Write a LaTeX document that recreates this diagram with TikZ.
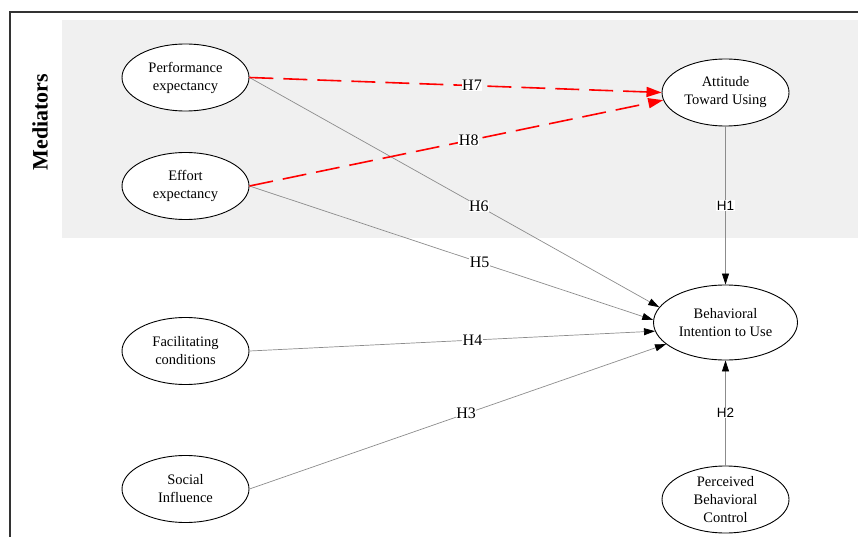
\documentclass[tikz,border=0pt]{standalone}
\usepackage{fontspec}
\setmainfont{Liberation Serif}
\newfontfamily\hsans{Liberation Sans}
\usetikzlibrary{shapes, arrows.meta, positioning}
\definecolor{medgray}{HTML}{F0F0F0}
\definecolor{linegray}{HTML}{8C8C8C}
\definecolor{framecol}{HTML}{333333}
\tikzstyle{construct} = [draw, ellipse, line width=0.9pt, fill=white, minimum width=127pt, minimum height=67pt, inner sep=0pt, align=center, font=\fontsize{14.5}{18}\selectfont]
\tikzstyle{wire} = [draw=linegray, line width=0.7pt, -{Triangle[black,length=11pt,width=7pt]}]
\tikzstyle{medwire} = [draw=red, line width=1.6pt, dash pattern=on 24pt off 10pt, -{Triangle[red,length=15pt,width=10pt]}]
\tikzstyle{hyp} = [fill=white, inner sep=0.5pt, font=\fontsize{16}{16}\selectfont]
\tikzstyle{hypsans} = [fill=white, inner sep=0.5pt, font=\hsans\fontsize{13.5}{13.5}\selectfont]

\begin{document}
\begin{tikzpicture}[x=1pt, y=1pt]
    \useasboundingbox (0,0) rectangle (858,-537);
    \fill[medgray] (62,-20) rectangle (858,-238);
    \draw[framecol, line width=1.2pt] (10,-537) -- (10,-12) -- (858,-12);
    \node[rotate=90, font=\fontsize{22}{22}\selectfont\bfseries] (med) at (40,-122) {Mediators};

    \node[construct] (pe) at (185.5,-77.5) {Performance\\expectancy};
    \node[construct, below of=pe, node distance=108.5pt] (ee) {Effort\\expectancy};
    \node[construct, below of=ee, node distance=165pt] (fc) {Facilitating\\conditions};
    \node[construct, below of=fc, node distance=138pt] (si) {Social\\Influence};
    \node[construct] (atu) at (725.5,-92.5) {Attitude\\Toward Using};
    \node[construct, minimum width=144pt, minimum height=75pt, below of=atu, node distance=230pt] (bi) {Behavioral\\Intention to Use};
    \node[construct, inner ysep=-2pt, below of=bi, node distance=177pt] (pbc) {Perceived\\Behavioral\\Control};

    \draw[wire] (pe.east) -- node[hyp, pos=0.56] (h6) {H6} (bi.167);
    \draw[wire] (ee.east) -- node[hyp, pos=0.57] (h5) {H5} (bi.178);
    \draw[wire] (fc.east) -- node[hyp, pos=0.55] (h4) {H4} (bi.187);
    \draw[wire] (si.east) -- node[hyp, pos=0.52] (h3) {H3} (bi.200);
    \draw[wire] (atu.south) -- node[hypsans] (h1) {H1} (bi.north);
    \draw[wire] (pbc.north) -- node[hypsans] (h2) {H2} (bi.south);
    \draw[medwire] (pe.east) -- node[hyp, pos=0.54] (h7) {H7} (atu.180);
    \draw[medwire] (ee.east) -- node[hyp, pos=0.53] (h8) {H8} (atu.187);
\end{tikzpicture}
\end{document}
